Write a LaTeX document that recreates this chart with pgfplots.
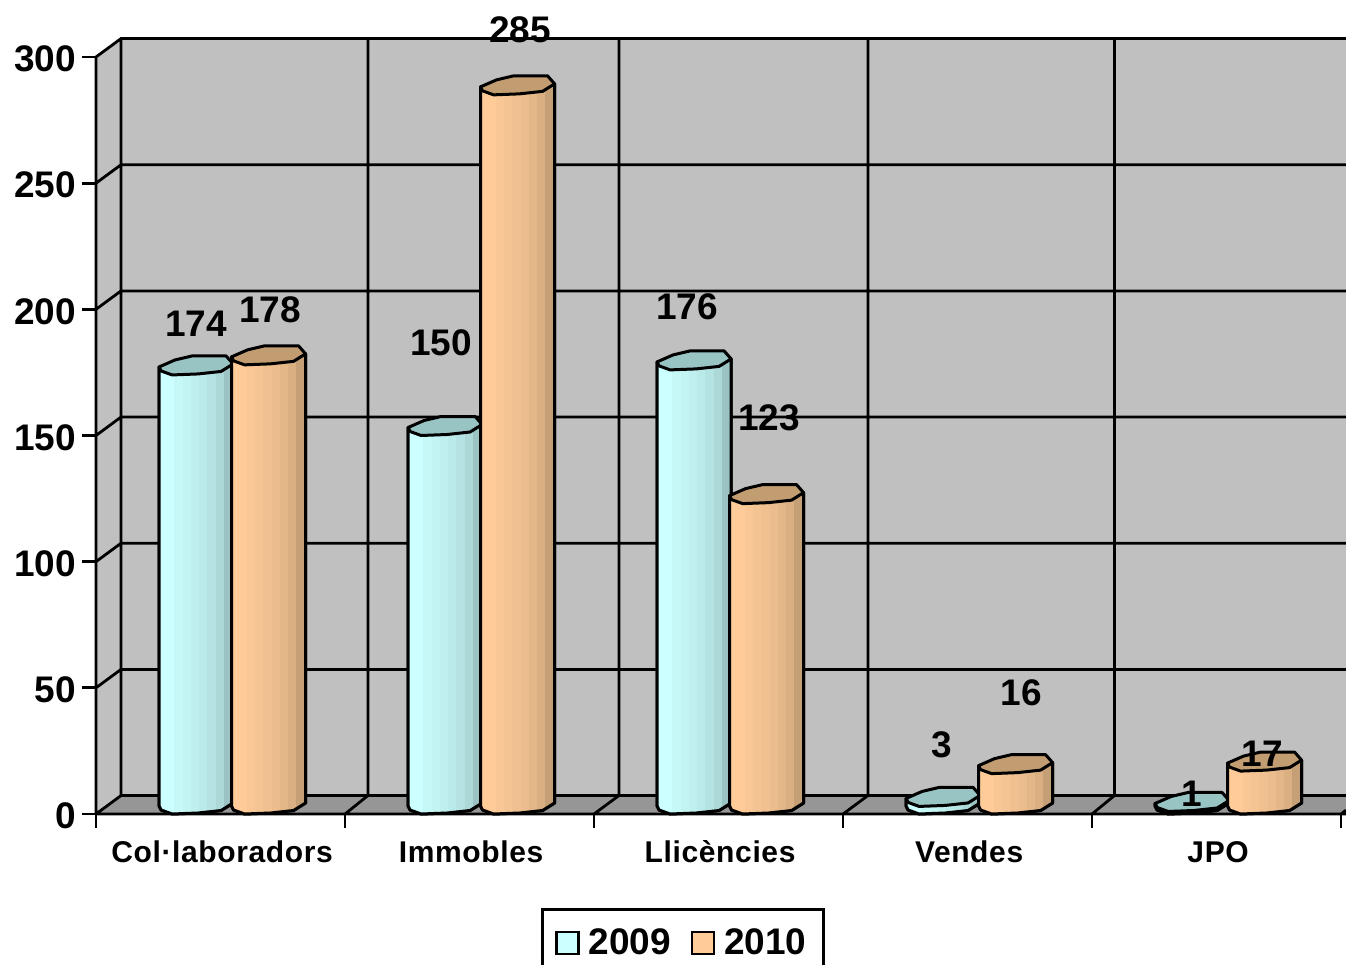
\documentclass[border=0pt]{standalone}
\usepackage{fontspec}
\setmainfont{Liberation Sans}
\usepackage{pgfplots}
\pgfplotsset{compat=1.18}
\definecolor{wallc}{HTML}{C0C0C0}
\definecolor{floorc}{HTML}{969696}
\definecolor{cyanL}{HTML}{CCFFFF}
\definecolor{cyanD}{HTML}{96BCBC}
\definecolor{cyanT}{HTML}{99C4C4}
\definecolor{orL}{HTML}{FFCC99}
\definecolor{orD}{HTML}{BF9A72}
\definecolor{orT}{HTML}{C39D72}
% one cylinder: its height comes from the data value of the point
\newcommand{\cylinder}[3]{%
  \pgfmathsetmacro\h{\pgfplotspointmetatransformed*0.757}%
  \begin{scope}[x=0.5pt,y=0.5pt,line width=1.5pt,line join=round]
    \begin{scope}
      \clip (-37,8)--(37,11)--(37,11-\h)--(25,3.5-\h)--(2,1-\h)--(-24,-\h)--(-35,4-\h)--(-37,8-\h)--cycle;
      \foreach \i/\p in {0/100,1/100,2/90,3/84,4/76,5/68,6/58,7/42,8/10}{
        \fill[color=#1!\p!#2] (-37+\i*8.3,25) rectangle ++(8.8,-\h-40);
      }
    \end{scope}
    \draw[black] (-37,8)--(-37,8-\h)--(-35,4-\h)--(-24,-\h)--(2,1-\h)--(25,3.5-\h)--(37,11-\h)--(37,11);
    \filldraw[fill=#3,draw=black] (-37,8)--(-35,4)--(-24,0)--(2,1)--(25,3.5)--(37,11)--(30,19)--(-4,19)--(-21,15)--cycle;
  \end{scope}}
\pgfdeclareplotmark{cylA}{\cylinder{cyanL}{cyanD}{cyanT}}
\pgfdeclareplotmark{cylB}{\cylinder{orL}{orD}{orT}}
\begin{document}
\begin{tikzpicture}
\useasboundingbox (0,0) rectangle (673pt,482.5pt);
\begin{axis}[
  at={(48pt,75.5pt)},anchor=south west,
  scale only axis,width=625pt,height=378.5pt,
  xmin=-0.5,xmax=4.52,ymin=0,ymax=300,
  clip=false,
  axis lines=left,
  axis line style={-,line width=1.4pt},
  tick style={black,line width=1.4pt},
  tick align=outside,
  major tick length=7pt,
  xtick={-0.5,0.5,1.5,2.5,3.5,4.5},
  xticklabels={},
  extra x ticks={0,1,2,3,4},
  extra x tick labels={Col·laboradors,Immobles,Llicències,Vendes,JPO},
  extra x tick style={major tick length=0pt,tick style={draw=none},
    xticklabel style={anchor=base,font=\fontsize{15}{15}\selectfont\bfseries\addfontfeatures{LetterSpace=2.1},yshift=-24pt,xshift=0.8pt}},
  ytick={0,50,100,150,200,250,300},
  /pgf/number format/assume math mode=true,
  yticklabel style={font=\fontsize{18.5}{18.5}\selectfont\bfseries,xshift=0.5pt,yshift=-1pt},
  point meta min=0,point meta max=300,
  scatter/use mapped color={draw=black,fill=black},
  legend style={at={(222.5pt,-47pt)},anchor=north west,draw=black,line width=1.4pt,
    legend columns=2,inner xsep=6.5pt,inner ysep=7.5pt,
    font=\fontsize{18.5}{18.5}\selectfont\bfseries,
    /tikz/every even column/.style={column sep=8pt}},
]
% walls and floor
\addplot[fill=wallc,draw=none,forget plot] coordinates {(-0.3996,7.3)(4.52,7.3)(4.52,307.3)(-0.3996,307.3)} --cycle;
\addplot[fill=wallc,draw=none,forget plot] coordinates {(-0.5,0)(-0.3996,7.3)(-0.3996,307.3)(-0.5,300)} --cycle;
\addplot[fill=floorc,draw=none,forget plot] coordinates {(-0.5,0)(4.52,0)(4.52,7.3)(-0.3996,7.3)} --cycle;
% gridlines
\addplot[black,line width=1.4pt,forget plot,unbounded coords=jump] coordinates {
 (-0.5,0)(-0.5,300)(nan,nan)
 (-0.5,0)(4.52,0)(nan,nan)
 (-0.5,0)(-0.3996,7.3)(4.52,7.3)(nan,nan)
 (-0.5,50)(-0.3996,57.3)(4.52,57.3)(nan,nan)
 (-0.5,100)(-0.3996,107.3)(4.52,107.3)(nan,nan)
 (-0.5,150)(-0.3996,157.3)(4.52,157.3)(nan,nan)
 (-0.5,200)(-0.3996,207.3)(4.52,207.3)(nan,nan)
 (-0.5,250)(-0.3996,257.3)(4.52,257.3)(nan,nan)
 (-0.5,300)(-0.3996,307.3)(4.52,307.3)(nan,nan)
 (-0.3996,7.3)(-0.3996,307.3)(nan,nan)
 (0.5,0)(0.592,7.3)(0.592,307.3)(nan,nan)
 (1.5,0)(1.6,7.3)(1.6,307.3)(nan,nan)
 (2.5,0)(2.6,7.3)(2.6,307.3)(nan,nan)
 (3.5,0)(3.59,7.3)(3.59,307.3)(nan,nan)
 (4.5,0)(4.52,1.5)
};
% cylinders
\addplot[only marks,scatter,mark=cylA,point meta=y,
  legend image code/.code={\draw[line width=1.2pt,fill=cyanL] (0pt,-5.5pt) rectangle (11pt,5.5pt);\path[draw=none] (0pt,0pt)--(14pt,0pt);}]
  coordinates {(-0.098,174)(0.902,150)(1.902,176)(2.902,3)(3.902,1)};
\addlegendentry{2009}
\addplot[only marks,scatter,mark=cylB,point meta=y,
  legend image code/.code={\draw[line width=1.2pt,fill=orL] (0pt,-5.5pt) rectangle (11pt,5.5pt);\path[draw=none] (0pt,0pt)--(14pt,0pt);}]
  coordinates {(0.193,178)(1.193,285)(2.193,123)(3.193,16)(4.193,17)};
\addlegendentry{2010}
% value labels
\addplot[only marks,mark=none,forget plot,point meta=explicit symbolic,
  nodes near coords,
  every node near coord/.append style={anchor=center,inner sep=0pt,text=black,
    font=\fontsize{18.5}{18.5}\selectfont\bfseries}]
  coordinates {(-0.098,194.2)[174](0.199,199.8)[178](0.886,186.7)[150](1.203,310.7)[285]
   (1.873,201)[176](2.203,157)[123](2.898,27.3)[3](3.215,48)[16](3.902,7.9)[1](4.183,23.8)[17]};
\end{axis}
\end{tikzpicture}
\end{document}
